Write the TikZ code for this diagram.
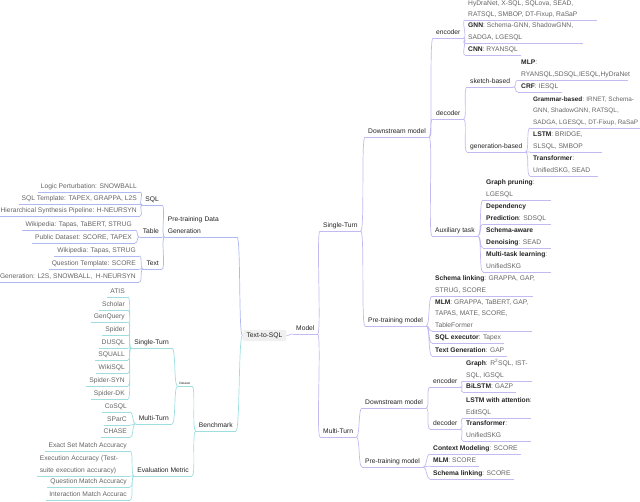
\documentclass[tikz,border=0pt]{standalone}
\usepackage{fontspec}
\setmainfont{Liberation Sans}
\usetikzlibrary{positioning}

\definecolor{lav}{RGB}{196,186,242}
\definecolor{blav}{RGB}{176,184,242}
\definecolor{cyn}{RGB}{158,222,224}
\definecolor{txt}{RGB}{35,35,35}
\definecolor{lgray}{RGB}{100,100,100}
\definecolor{rootbg}{RGB}{240,240,240}

\newcommand\lb[1]{\textcolor{txt}{\textbf{#1}}}

\tikzset{
  every node/.style={font=\fontsize{6.7}{11.6}\selectfont, text=txt, inner xsep=3pt, inner ysep=1.8pt,
    execute at end node={\rule[-1.6pt]{0pt}{1.6pt}}},
  ul/.style={append after command={\pgfextra{\let\ulnode\tikzlastnode}
      (\ulnode.south west) edge[draw=#1, line width=0.7pt] (\ulnode.south east)}},
  rt/.style={ul=#1, anchor=south west, align=left},
  lt/.style={ul=#1, anchor=south east, align=right},
  % multi-line box on the right, underline of a given length
  rtw/.style 2 args={anchor=south west, align=left, text=lgray,
    append after command={\pgfextra{\let\ulnode\tikzlastnode}
      (\ulnode.south west) edge[draw=#1, line width=0.7pt] ([xshift=#2pt]\ulnode.south west)}},
  leaf/.style={text=lgray},
  tor/.style={draw=#1, line width=0.7pt, to path={.. controls +(4,0) and +(-4,0) .. (\tikztotarget)}},
  tol/.style={draw=#1, line width=0.7pt, to path={.. controls +(-4,0) and +(4,0) .. (\tikztotarget)}},
  root/.style={fill=rootbg, rounded corners=1.5pt, inner xsep=4pt, inner ysep=2.5pt}
}

\begin{document}
\begin{tikzpicture}[x=1pt,y=-1pt]
\useasboundingbox (0,0) rectangle (640,501);

% Text Node: root and first level
\node[root] (t2s) at (264.5,335.5) {Text-to-SQL};
\node[rt=lav] (mdl) at (293,334) {Model};
\node[lt=blav, align=left, text width=66pt] (pdg) at (237,237) {Pre-training Data\\Generation};
\node[lt=cyn] (bm) at (236,431) {Benchmark};

% Model, Single-Turn
\node[rt=lav] (st) at (320,231) {Single-Turn};
\node[rt=lav] (sdm) at (365,137) {Downstream model};
\node[rt=lav] (spm) at (365,326) {Pre-training model};
\node[rt=lav] (senc) at (433,38) {encoder};
\node[rt=lav] (sdec) at (433,119) {decoder};
\node[rt=lav] (saux) at (432,236) {Auxiliary task};
\node[rt=lav] (sketch) at (467,87) {sketch-based};
\node[rt=lav] (gen) at (467,152) {generation-based};

\node[rtw={lav}{132}, font=\fontsize{6.7}{11}\selectfont] (se1) at (465,20) {HyDraNet, X-SQL, SQLova, SEAD,\\RATSQL, SMBOP, DT-Fixup, RaSaP};
\node[rtw={lav}{118}] (se2) at (465,43) {\lb{GNN}: Schema-GNN, ShadowGNN,\\SADGA, LGESQL};
\node[rt=lav, leaf] (se3) at (465,55) {\lb{CNN}: RYANSQL};

\node[rtw={lav}{110}] (sk1) at (518,80) {\lb{MLP}:\\RYANSQL,SDSQL,IESQL,HyDraNet};
\node[rt=lav, leaf] (sk2) at (518,92) {\lb{CRF}: IESQL};

\node[rtw={lav}{115}, font=\fontsize{6.4}{11.6}\selectfont] (ge1) at (530,128) {\lb{Grammar-based}: IRNET, Schema-\\GNN, ShadowGNN, RATSQL,\\SADGA, LGESQL, DT-Fixup, RaSaP};
\node[rtw={lav}{72}] (ge2) at (530,152) {\lb{LSTM}: BRIDGE,\\SLSQL, SMBOP};
\node[rtw={lav}{68}] (ge3) at (530,176) {\lb{Transformer}:\\UnifiedSKG, SEAD};

\node[rtw={lav}{68}] (sa1) at (483,200) {\lb{Graph pruning}:\\LGESQL};
\node[rtw={lav}{68}] (sa2) at (483,224) {\lb{Dependency}\\\lb{Prediction}: SDSQL};
\node[rtw={lav}{68}] (sa3) at (483,248) {\lb{Schema-aware}\\\lb{Denoising}: SEAD};
\node[rtw={lav}{68}] (sa4) at (483,272) {\lb{Multi-task learning}:\\UnifiedSKG};

\node[rtw={lav}{101}] (sp1) at (432,296) {\lb{Schema linking}: GRAPPA, GAP,\\STRUG, SCORE};
\node[rtw={lav}{100}] (sp2) at (432,331) {\lb{MLM}: GRAPPA, TaBERT, GAP,\\TAPAS, MATE, SCORE,\\TableFormer};
\node[rt=lav, leaf] (sp3) at (432,343) {\lb{SQL executor}: Tapex};
\node[rt=lav, leaf] (sp4) at (432,356) {\lb{Text Generation}: GAP};

% Model, Multi-Turn
\node[rt=lav] (mt) at (320,437) {Multi-Turn};
\node[rt=lav] (mdm) at (362,408) {Downstream model};
\node[rt=lav] (mpm) at (362,467) {Pre-training model};
\node[rt=lav] (menc) at (430,387) {encoder};
\node[rt=lav] (mdec) at (430,429) {decoder};
\node[rtw={lav}{69}] (me1) at (463,381) {\lb{Graph}: R\textsuperscript{2}SQL, IST-\\SQL, IGSQL};
\node[rt=lav, leaf] (me2) at (463,392) {\lb{BiLSTM}: GAZP};
\node[rtw={lav}{68}] (md1) at (463,418) {\lb{LSTM with attention}:\\EditSQL};
\node[rtw={lav}{68}] (md2) at (463,441) {\lb{Transformer}:\\UnifiedSKG};
\node[rt=lav, leaf] (mp1) at (430,454) {\lb{Context Modeling}: SCORE};
\node[rt=lav, leaf] (mp2) at (430,466) {\lb{MLM}: SCORE};
\node[rt=lav, leaf] (mp3) at (430,479) {\lb{Schema linking}: SCORE};

% Pre-training Data Generation
\node[lt=blav] (sql) at (162,205) {SQL};
\node[lt=blav] (tbl) at (162,237) {Table};
\node[lt=blav] (tx) at (162,269) {Text};
\node[lt=blav, leaf] (sq1) at (140,192) {Logic Perturbation: SNOWBALL};
\node[lt=blav, leaf] (sq2) at (140,204) {SQL Template: TAPEX, GRAPPA, L2S};
\node[lt=blav, leaf] (sq3) at (140,216) {Hierarchical Synthesis Pipeline: H-NEURSYN};
\node[lt=blav, leaf] (tb1) at (135,230) {Wikipedia: Tapas, TaBERT, STRUG};
\node[lt=blav, leaf] (tb2) at (135,243) {Public Dataset: SCORE, TAPEX};
\node[lt=blav, leaf] (tx1) at (139,256) {Wikipedia: Tapas, STRUG};
\node[lt=blav, leaf] (tx2) at (139,269) {Question Template: SCORE};
\node[lt=blav, leaf] (tx3) at (139,282) {Generation: L2S, SNOWBALL,\ \ H-NEURSYN};

% Benchmark
\node[lt=cyn, font=\fontsize{3.2}{4}\selectfont, inner xsep=1.5pt, inner ysep=0.2pt] (ds) at (192,386) {Dataset};
\node[lt=cyn] (bst) at (172,348) {Single-Turn};
\node[lt=cyn] (bmt) at (172,424) {Multi-Turn};
\node[lt=cyn] (em) at (192,476) {Evaluation Metric};
\node[lt=cyn, leaf] (b1) at (128,297) {ATIS};
\node[lt=cyn, leaf] (b2) at (128,310) {Scholar};
\node[lt=cyn, leaf] (b3) at (128,322) {GenQuery};
\node[lt=cyn, leaf] (b4) at (128,335) {Spider};
\node[lt=cyn, leaf] (b5) at (128,348) {DUSQL};
\node[lt=cyn, leaf] (b6) at (128,360) {SQUALL};
\node[lt=cyn, leaf] (b7) at (128,373) {WikiSQL};
\node[lt=cyn, leaf] (b8) at (128,386) {Spider-SYN};
\node[lt=cyn, leaf] (b9) at (128,399) {Spider-DK};
\node[lt=cyn, leaf] (c1) at (130,412) {CoSQL};
\node[lt=cyn, leaf] (c2) at (130,425) {SParC};
\node[lt=cyn, leaf] (c3) at (130,437) {CHASE};
\node[lt=cyn, leaf] (ev1) at (130,451) {Exact Set Match Accuracy};
\node[lt=cyn, leaf, align=left, text width=87pt] (ev2) at (130,476) {Execution Accuracy (Test-\\suite execution accuracy)};
\node[lt=cyn, leaf] (ev3) at (130,487) {Question Match Accuracy};
\node[lt=cyn, leaf] (ev4) at (130,500) {Interaction Match Accurac};

% Curve Lines: right side
\draw[tor=lav] (t2s.east) to (mdl.south west);
\draw[tor=lav] (mdl.south east) to (st.south west) (mdl.south east) to (mt.south west);
\draw[tor=lav] (st.south east) to (sdm.south west) (st.south east) to (spm.south west);
\draw[tor=lav] (sdm.south east) to (senc.south west) (sdm.south east) to (sdec.south west) (sdm.south east) to (saux.south west);
\draw[tor=lav] (senc.south east) to (se1.south west) (senc.south east) to (se2.south west) (senc.south east) to (se3.south west);
\draw[tor=lav] (sdec.south east) to (sketch.south west) (sdec.south east) to (gen.south west);
\draw[tor=lav] (sketch.south east) to (sk1.south west) (sketch.south east) to (sk2.south west);
\draw[tor=lav] (gen.south east) to (ge1.south west) (gen.south east) to (ge2.south west) (gen.south east) to (ge3.south west);
\draw[tor=lav] (saux.south east) to (sa1.south west) (saux.south east) to (sa2.south west) (saux.south east) to (sa3.south west) (saux.south east) to (sa4.south west);
\draw[tor=lav] (spm.south east) to (sp1.south west) (spm.south east) to (sp2.south west) (spm.south east) to (sp3.south west) (spm.south east) to (sp4.south west);
\draw[tor=lav] (mt.south east) to (mdm.south west) (mt.south east) to (mpm.south west);
\draw[tor=lav] (mdm.south east) to (menc.south west) (mdm.south east) to (mdec.south west);
\draw[tor=lav] (menc.south east) to (me1.south west) (menc.south east) to (me2.south west);
\draw[tor=lav] (mdec.south east) to (md1.south west) (mdec.south east) to (md2.south west);
\draw[tor=lav] (mpm.south east) to (mp1.south west) (mpm.south east) to (mp2.south west) (mpm.south east) to (mp3.south west);

% Curve Lines: left side
\draw[tol=blav] (t2s.west) to (pdg.south east);
\draw[tol=blav] (pdg.south west) to (sql.south east) (pdg.south west) to (tbl.south east) (pdg.south west) to (tx.south east);
\draw[tol=blav] (sql.south west) to (sq1.south east) (sql.south west) to (sq2.south east) (sql.south west) to (sq3.south east);
\draw[tol=blav] (tbl.south west) to (tb1.south east) (tbl.south west) to (tb2.south east);
\draw[tol=blav] (tx.south west) to (tx1.south east) (tx.south west) to (tx2.south east) (tx.south west) to (tx3.south east);
\draw[tol=cyn] (t2s.west) to (bm.south east);
\draw[tol=cyn] (bm.south west) to (ds.south east) (bm.south west) to (em.south east);
\draw[tol=cyn] (ds.south west) to (bst.south east) (ds.south west) to (bmt.south east);
\draw[tol=cyn] (bst.south west) to (b1.south east) (bst.south west) to (b2.south east) (bst.south west) to (b3.south east)
  (bst.south west) to (b4.south east) (bst.south west) to (b5.south east) (bst.south west) to (b6.south east)
  (bst.south west) to (b7.south east) (bst.south west) to (b8.south east) (bst.south west) to (b9.south east);
\draw[tol=cyn] (bmt.south west) to (c1.south east) (bmt.south west) to (c2.south east) (bmt.south west) to (c3.south east);
\draw[tol=cyn] (em.south west) to (ev1.south east) (em.south west) to (ev2.south east) (em.south west) to (ev3.south east) (em.south west) to (ev4.south east);

\end{tikzpicture}
\end{document}
